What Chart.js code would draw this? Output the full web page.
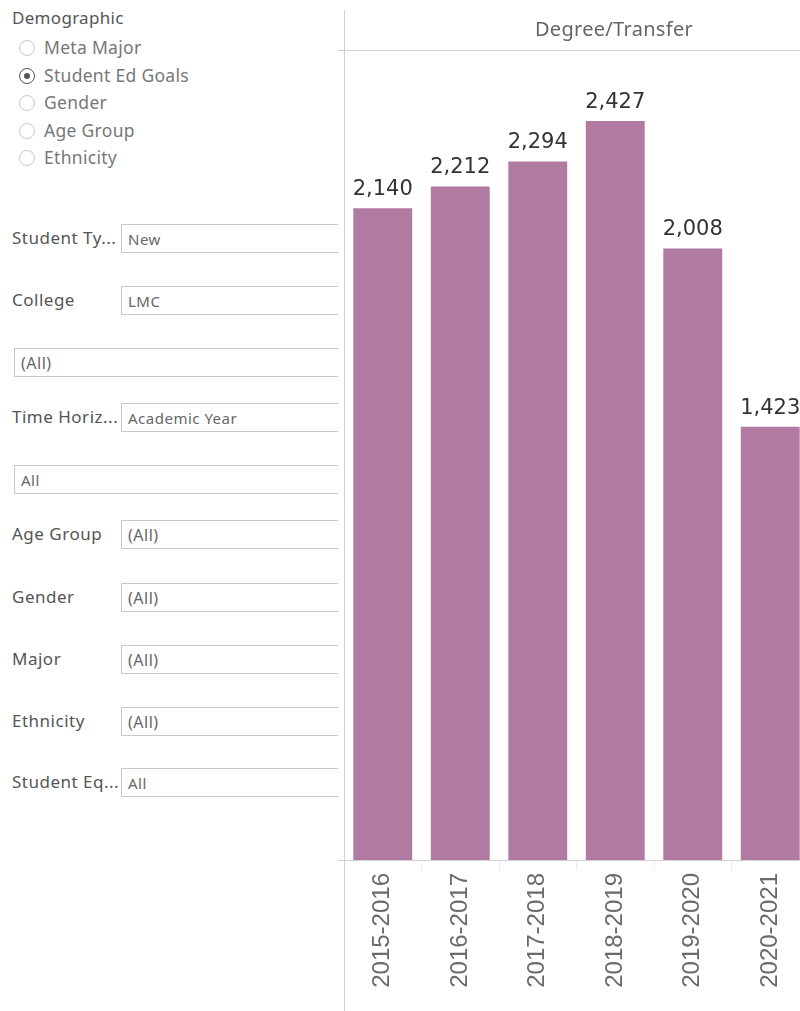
<!DOCTYPE html>
<html>
<head>
<meta charset="utf-8">
<script src="https://cdn.jsdelivr.net/npm/chart.js@4.4.1/dist/chart.umd.min.js"></script>
<style>
  html, body { margin: 0; padding: 0; background: #fff; }
  body { width: 800px; height: 1011px; overflow: hidden; position: relative; font-family: "Noto Sans", sans-serif; }
  #panel { position: absolute; left: 0; top: 0; width: 338px; height: 1011px; overflow: hidden; }
  .title { position: absolute; left: 12px; top: 6px; font-size: 17px; letter-spacing: 0.3px; color: #555; }
  .radio { position: absolute; left: 19px; height: 20px; line-height: 20px; font-size: 17.5px; letter-spacing: 0.3px; color: #777; white-space: nowrap; }
  .radio .dot { position: absolute; left: 0; top: 2px; width: 16px; height: 16px; box-sizing: border-box; border: 1px solid #c8c8c8; border-radius: 50%; }
  .radio.on .dot { border-color: #555; }
  .radio.on .dot::after { content: ""; position: absolute; left: 4px; top: 4px; width: 6px; height: 6px; border-radius: 50%; background: #555; }
  .radio span { position: absolute; left: 25px; top: -1px; }
  .label { position: absolute; left: 12px; font-size: 17px; letter-spacing: 0.5px; color: #555; white-space: nowrap; height: 29px; line-height: 29px; }
  .box { position: absolute; height: 29px; box-sizing: border-box; border: 1px solid #c8c8c8; right: -10px; padding-left: 6px; line-height: 29px; font-size: 15px; letter-spacing: 0.5px; color: #666; white-space: nowrap; }
  #header { position: absolute; left: 344px; width: 540px; top: 15px; text-align: center; font-size: 20px; letter-spacing: 0.3px; color: #666; }
  #wrap { position: absolute; left: 338px; top: 0; width: 480px; height: 1011px; }
</style>
</head>
<body>
<div id="panel"></div>
<div id="wrap"><canvas id="chartGoals"></canvas></div>
<div id="header">Degree/Transfer</div>
<script>
// Degree/Transfer headcount of new students by academic year
const academicYears = ["2015-2016", "2016-2017", "2017-2018", "2018-2019", "2019-2020", "2020-2021"];
const degreeTransfer = [2140, 2212, 2294, 2427, 2008, 1423];
const gridStep = 500;

const demographics = ["Meta Major", "Student Ed Goals", "Gender", "Age Group", "Ethnicity"];
const selectedDemographic = "Student Ed Goals";
const filterLabels = ["Student Ty...", "College", "", "Time Horiz...", "", "Age Group", "Gender", "Major", "Ethnicity", "Student Eq..."];
const filterValues = ["New", "LMC", "(All)", "Academic Year", "All", "(All)", "(All)", "(All)", "(All)", "All"];

// left filter panel
const panel = document.getElementById("panel");
let html = '<div class="title">Demographic</div>';
const radioTops = [38, 66, 93, 121, 148];
demographics.forEach((d, i) => {
    const on = d === selectedDemographic ? " on" : "";
    html += `<div class="radio${on}" style="top:${radioTops[i]}px"><div class="dot"></div><span>${d}</span></div>`;
});
const boxTops = [224, 286, 348, 403, 465, 520, 583, 645, 707, 768];
filterLabels.forEach((lab, i) => {
    const left = lab ? 121 : 14;
    if (lab) html += `<div class="label" style="top:${boxTops[i] - 1}px">${lab}</div>`;
    const big = filterValues[i] === "(All)" ? "font-size:16px;" : "";
    html += `<div class="box" style="top:${boxTops[i]}px;left:${left}px;${big}">${filterValues[i]}</div>`;
});
panel.innerHTML = html;

// frame lines around the pane and value labels over bars
const paneFrame = {
    id: "paneFrame",
    afterDraw(chart) {
        const { ctx, chartArea } = chart;
        ctx.save();
        ctx.strokeStyle = "#d2d2d2";
        ctx.lineWidth = 1;
        ctx.beginPath();
        ctx.moveTo(0, chartArea.top + 0.5);
        ctx.lineTo(chart.width, chartArea.top + 0.5);
        ctx.moveTo(0, chartArea.bottom + 0.5);
        ctx.lineTo(chart.width, chartArea.bottom + 0.5);
        ctx.moveTo(chartArea.left + 0.5, 10);
        ctx.lineTo(chartArea.left + 0.5, chart.height);
        ctx.stroke();

        const meta = chart.getDatasetMeta(0);
        ctx.fillStyle = "#333";
        ctx.font = '21px "DejaVu Sans"';
        ctx.textAlign = "center";
        ctx.textBaseline = "bottom";
        meta.data.forEach((bar, i) => {
            ctx.fillText(degreeTransfer[i].toLocaleString("en-US"), bar.x, bar.y - 8);
        });
        ctx.restore();
    }
};

document.addEventListener("DOMContentLoaded", () => {
    const ctx = document.getElementById("chartGoals");

    new Chart(ctx, {
        type: "bar",
        data: {
            labels: academicYears,
            datasets: [{
                label: "Degree/Transfer",
                data: degreeTransfer,
                backgroundColor: "#b07aa1",
                barPercentage: 0.76,
                categoryPercentage: 1
            }]
        },
        options: {
            responsive: true,
            maintainAspectRatio: false,
            animation: false,
            layout: { padding: { left: 6, right: 9, top: 50, bottom: 0 } },
            plugins: {
                legend: { display: false },
                tooltip: { enabled: false }
            },
            scales: {
                x: {
                    grid: {
                        offset: true,
                        drawOnChartArea: false,
                        tickLength: 10,
                        color: "#ededed"
                    },
                    border: { display: false },
                    ticks: {
                        minRotation: 90,
                        maxRotation: 90,
                        padding: 3,
                        color: "#6a6a6a",
                        font: { family: "Liberation Sans, Arial, sans-serif", size: 24 }
                    },
                    afterFit(scale) { scale.height = 151; }
                },
                y: {
                    min: 0,
                    max: 2660,
                    ticks: { display: false, stepSize: gridStep },
                    grid: { color: "#f0f0f0", drawTicks: false },
                    border: { display: false },
                    afterBuildTicks(scale) {
                        scale.ticks = scale.ticks.filter(t => t.value % gridStep === 0 && t.value > 0);
                    },
                    afterFit(scale) { scale.width = 0; }
                }
            }
        },
        plugins: [paneFrame]
    });
});
</script>
</body>
</html>
